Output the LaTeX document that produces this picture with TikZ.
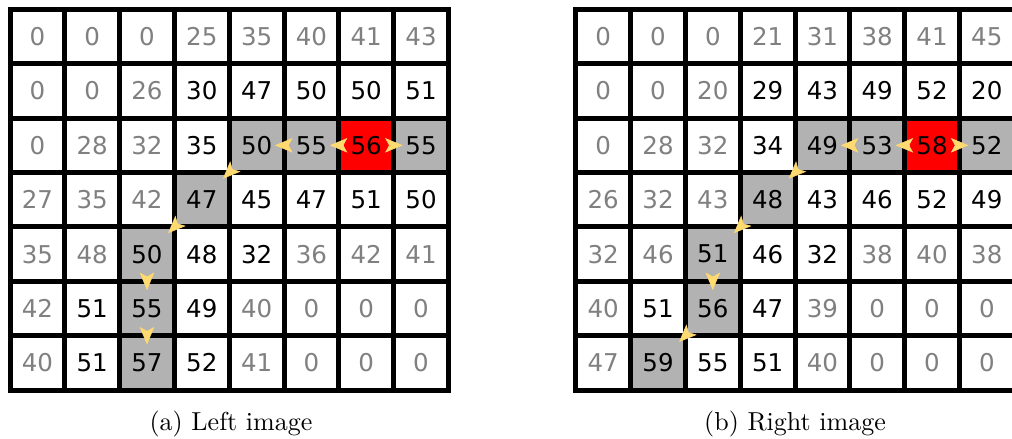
\documentclass[tikz,border=0pt]{standalone}
\usepackage{fontspec}
\newfontfamily\cellfont{DejaVu Sans}
\usetikzlibrary{arrows.meta}
\definecolor{arrowgold}{RGB}{255,218,112}
\begin{document}
\begin{tikzpicture}[x=0.4pt,y=-0.4pt,line join=miter,
  cell/.style={draw=black,line width=2pt,fill=white,inner sep=0pt,minimum width=21.92pt,minimum height=21.76pt,font=\cellfont\fontsize{9.8}{11}\selectfont},
  lowcell/.style={cell,text=black!50},
  highcell/.style={cell,text=black},
  trackcell/.style={cell,fill=black!30},
  peakcell/.style={cell,fill=red},
  hop/.style={-{Stealth[length=7pt,width=5.8pt,inset=1.6pt]},arrowgold,line width=0.2pt,shorten >=7.36pt,shorten <=9.36pt},
  diaghop/.style={hop,shorten >=11.9pt,shorten <=13.9pt},
  caption/.style={font=\fontsize{10.4}{12.5}\selectfont,anchor=base}]
\useasboundingbox (0,0) rectangle (1012,439);
\begin{scope}[shift={(10,9.3)},x=21.92pt,y=-21.76pt]
\node[lowcell] (a-0-0) at (0.5,0.5) {0};
\node[lowcell] (a-0-1) at (1.5,0.5) {0};
\node[lowcell] (a-0-2) at (2.5,0.5) {0};
\node[lowcell] (a-0-3) at (3.5,0.5) {25};
\node[lowcell] (a-0-4) at (4.5,0.5) {35};
\node[lowcell] (a-0-5) at (5.5,0.5) {40};
\node[lowcell] (a-0-6) at (6.5,0.5) {41};
\node[lowcell] (a-0-7) at (7.5,0.5) {43};
\node[lowcell] (a-1-0) at (0.5,1.5) {0};
\node[lowcell] (a-1-1) at (1.5,1.5) {0};
\node[lowcell] (a-1-2) at (2.5,1.5) {26};
\node[highcell] (a-1-3) at (3.5,1.5) {30};
\node[highcell] (a-1-4) at (4.5,1.5) {47};
\node[highcell] (a-1-5) at (5.5,1.5) {50};
\node[highcell] (a-1-6) at (6.5,1.5) {50};
\node[highcell] (a-1-7) at (7.5,1.5) {51};
\node[lowcell] (a-2-0) at (0.5,2.5) {0};
\node[lowcell] (a-2-1) at (1.5,2.5) {28};
\node[lowcell] (a-2-2) at (2.5,2.5) {32};
\node[highcell] (a-2-3) at (3.5,2.5) {35};
\node[trackcell] (a-2-4) at (4.5,2.5) {50};
\node[trackcell] (a-2-5) at (5.5,2.5) {55};
\node[peakcell] (a-2-6) at (6.5,2.5) {56};
\node[trackcell] (a-2-7) at (7.5,2.5) {55};
\node[lowcell] (a-3-0) at (0.5,3.5) {27};
\node[lowcell] (a-3-1) at (1.5,3.5) {35};
\node[lowcell] (a-3-2) at (2.5,3.5) {42};
\node[trackcell] (a-3-3) at (3.5,3.5) {47};
\node[highcell] (a-3-4) at (4.5,3.5) {45};
\node[highcell] (a-3-5) at (5.5,3.5) {47};
\node[highcell] (a-3-6) at (6.5,3.5) {51};
\node[highcell] (a-3-7) at (7.5,3.5) {50};
\node[lowcell] (a-4-0) at (0.5,4.5) {35};
\node[lowcell] (a-4-1) at (1.5,4.5) {48};
\node[trackcell] (a-4-2) at (2.5,4.5) {50};
\node[highcell] (a-4-3) at (3.5,4.5) {48};
\node[highcell] (a-4-4) at (4.5,4.5) {32};
\node[lowcell] (a-4-5) at (5.5,4.5) {36};
\node[lowcell] (a-4-6) at (6.5,4.5) {42};
\node[lowcell] (a-4-7) at (7.5,4.5) {41};
\node[lowcell] (a-5-0) at (0.5,5.5) {42};
\node[highcell] (a-5-1) at (1.5,5.5) {51};
\node[trackcell] (a-5-2) at (2.5,5.5) {55};
\node[highcell] (a-5-3) at (3.5,5.5) {49};
\node[lowcell] (a-5-4) at (4.5,5.5) {40};
\node[lowcell] (a-5-5) at (5.5,5.5) {0};
\node[lowcell] (a-5-6) at (6.5,5.5) {0};
\node[lowcell] (a-5-7) at (7.5,5.5) {0};
\node[lowcell] (a-6-0) at (0.5,6.5) {40};
\node[highcell] (a-6-1) at (1.5,6.5) {51};
\node[trackcell] (a-6-2) at (2.5,6.5) {57};
\node[highcell] (a-6-3) at (3.5,6.5) {52};
\node[lowcell] (a-6-4) at (4.5,6.5) {41};
\node[lowcell] (a-6-5) at (5.5,6.5) {0};
\node[lowcell] (a-6-6) at (6.5,6.5) {0};
\node[lowcell] (a-6-7) at (7.5,6.5) {0};
\draw[hop] (a-2-6.center) -- (a-2-5.center);
\draw[hop] (a-2-6.center) -- (a-2-7.center);
\draw[hop] (a-2-5.center) -- (a-2-4.center);
\draw[diaghop] (a-2-4.center) -- (a-3-3.center);
\draw[diaghop] (a-3-3.center) -- (a-4-2.center);
\draw[hop] (a-4-2.center) -- (a-5-2.center);
\draw[hop] (a-5-2.center) -- (a-6-2.center);
\end{scope}
\begin{scope}[shift={(575.8,9.3)},x=21.92pt,y=-21.76pt]
\node[lowcell] (b-0-0) at (0.5,0.5) {0};
\node[lowcell] (b-0-1) at (1.5,0.5) {0};
\node[lowcell] (b-0-2) at (2.5,0.5) {0};
\node[lowcell] (b-0-3) at (3.5,0.5) {21};
\node[lowcell] (b-0-4) at (4.5,0.5) {31};
\node[lowcell] (b-0-5) at (5.5,0.5) {38};
\node[lowcell] (b-0-6) at (6.5,0.5) {41};
\node[lowcell] (b-0-7) at (7.5,0.5) {45};
\node[lowcell] (b-1-0) at (0.5,1.5) {0};
\node[lowcell] (b-1-1) at (1.5,1.5) {0};
\node[lowcell] (b-1-2) at (2.5,1.5) {20};
\node[highcell] (b-1-3) at (3.5,1.5) {29};
\node[highcell] (b-1-4) at (4.5,1.5) {43};
\node[highcell] (b-1-5) at (5.5,1.5) {49};
\node[highcell] (b-1-6) at (6.5,1.5) {52};
\node[highcell] (b-1-7) at (7.5,1.5) {20};
\node[lowcell] (b-2-0) at (0.5,2.5) {0};
\node[lowcell] (b-2-1) at (1.5,2.5) {28};
\node[lowcell] (b-2-2) at (2.5,2.5) {32};
\node[highcell] (b-2-3) at (3.5,2.5) {34};
\node[trackcell] (b-2-4) at (4.5,2.5) {49};
\node[trackcell] (b-2-5) at (5.5,2.5) {53};
\node[peakcell] (b-2-6) at (6.5,2.5) {58};
\node[trackcell] (b-2-7) at (7.5,2.5) {52};
\node[lowcell] (b-3-0) at (0.5,3.5) {26};
\node[lowcell] (b-3-1) at (1.5,3.5) {32};
\node[lowcell] (b-3-2) at (2.5,3.5) {43};
\node[trackcell] (b-3-3) at (3.5,3.5) {48};
\node[highcell] (b-3-4) at (4.5,3.5) {43};
\node[highcell] (b-3-5) at (5.5,3.5) {46};
\node[highcell] (b-3-6) at (6.5,3.5) {52};
\node[highcell] (b-3-7) at (7.5,3.5) {49};
\node[lowcell] (b-4-0) at (0.5,4.5) {32};
\node[lowcell] (b-4-1) at (1.5,4.5) {46};
\node[trackcell] (b-4-2) at (2.5,4.5) {51};
\node[highcell] (b-4-3) at (3.5,4.5) {46};
\node[highcell] (b-4-4) at (4.5,4.5) {32};
\node[lowcell] (b-4-5) at (5.5,4.5) {38};
\node[lowcell] (b-4-6) at (6.5,4.5) {40};
\node[lowcell] (b-4-7) at (7.5,4.5) {38};
\node[lowcell] (b-5-0) at (0.5,5.5) {40};
\node[highcell] (b-5-1) at (1.5,5.5) {51};
\node[trackcell] (b-5-2) at (2.5,5.5) {56};
\node[highcell] (b-5-3) at (3.5,5.5) {47};
\node[lowcell] (b-5-4) at (4.5,5.5) {39};
\node[lowcell] (b-5-5) at (5.5,5.5) {0};
\node[lowcell] (b-5-6) at (6.5,5.5) {0};
\node[lowcell] (b-5-7) at (7.5,5.5) {0};
\node[lowcell] (b-6-0) at (0.5,6.5) {47};
\node[trackcell] (b-6-1) at (1.5,6.5) {59};
\node[highcell] (b-6-2) at (2.5,6.5) {55};
\node[highcell] (b-6-3) at (3.5,6.5) {51};
\node[lowcell] (b-6-4) at (4.5,6.5) {40};
\node[lowcell] (b-6-5) at (5.5,6.5) {0};
\node[lowcell] (b-6-6) at (6.5,6.5) {0};
\node[lowcell] (b-6-7) at (7.5,6.5) {0};
\draw[hop] (b-2-6.center) -- (b-2-5.center);
\draw[hop] (b-2-6.center) -- (b-2-7.center);
\draw[hop] (b-2-5.center) -- (b-2-4.center);
\draw[diaghop] (b-2-4.center) -- (b-3-3.center);
\draw[diaghop] (b-3-3.center) -- (b-4-2.center);
\draw[hop] (b-4-2.center) -- (b-5-2.center);
\draw[diaghop] (b-5-2.center) -- (b-6-1.center);
\end{scope}
\node[caption] (capa) at (231,430) {(a) Left image};
\node[caption] (capb) at (795,430) {(b) Right image};
\end{tikzpicture}
\end{document}
